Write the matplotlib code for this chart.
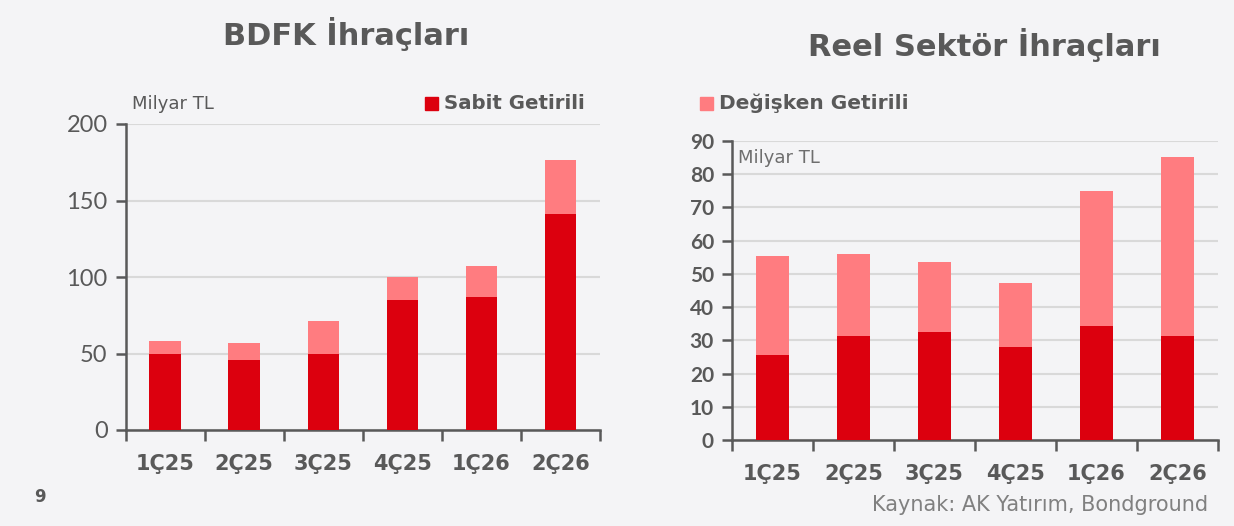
import matplotlib
matplotlib.use("Agg")
import matplotlib.pyplot as plt
import numpy as np

plt.rcParams['font.family'] = ['DejaVu Sans']

# Veriler (Milyar TL)
kategoriler = ['1Ç25', '2Ç25', '3Ç25', '4Ç25', '1Ç26', '2Ç26']
bdfk_sabit = [49.8, 45.7, 49.8, 85.2, 87.0, 141.5]
bdfk_degisken = [8.2, 11.0, 21.7, 15.0, 20.4, 35.0]
reel_sabit = [25.6, 31.4, 32.6, 28.1, 34.3, 31.3]
reel_degisken = [29.7, 24.6, 21.0, 19.3, 40.8, 53.8]

KIRMIZI = '#DC000E'
PEMBE = '#FF7C80'
GRI_YAZI = '#595959'
ARKA = '#F4F4F6'
IZGARA = '#D9D9D9'

fig = plt.figure(figsize=(12.34, 5.26), dpi=100, facecolor=ARKA)


def ciz(ax, sabit, degisken, ymax, ystep, ytick_kwargs):
    x = np.arange(len(kategoriler))
    ax.set_facecolor(ARKA)
    ax.bar(x, sabit, width=0.4, color=KIRMIZI, zorder=3)
    ax.bar(x, degisken, width=0.4, bottom=sabit, color=PEMBE, zorder=3)
    ax.set_xlim(-0.5, len(kategoriler) - 0.5)
    ax.set_ylim(0, ymax)
    ax.set_yticks(np.arange(0, ymax + 1, ystep))
    ax.grid(axis='y', color=IZGARA, linewidth=1.5, zorder=0)
    for s in ['top', 'right']:
        ax.spines[s].set_visible(False)
    for s in ['left', 'bottom']:
        ax.spines[s].set_color(GRI_YAZI)
        ax.spines[s].set_linewidth(1.8)
    # kategori etiketleri ortada, tik isaretleri sinirlarda
    ax.set_xticks(x)
    ax.set_xticklabels(kategoriler, fontsize=15, fontweight='bold', color=GRI_YAZI)
    ax.tick_params(axis='x', which='major', length=0, pad=17)
    ax.set_xticks(np.arange(-0.5, len(kategoriler)), minor=True)
    ax.tick_params(axis='x', which='minor', length=8, width=1.8, color=GRI_YAZI)
    ax.tick_params(axis='y', length=7, width=1.8, color=GRI_YAZI, pad=6)
    for lbl in ax.get_yticklabels():
        lbl.set(**ytick_kwargs)


# Sol grafik: BDFK
ax1 = fig.add_axes([125.7 / 1234, 1 - 430 / 526, (600 - 125.7) / 1234, (430 - 124) / 526])
ciz(ax1, bdfk_sabit, bdfk_degisken, 200, 50,
    dict(fontsize=17, fontweight='normal', color=GRI_YAZI, family=['Lato']))

# Sag grafik: Reel sektor
ax2 = fig.add_axes([732 / 1234, 1 - 440 / 526, (1218 - 732) / 1234, (440 - 141) / 526])
ciz(ax2, reel_sabit, reel_degisken, 90, 10,
    dict(fontsize=15, fontweight='bold', color=GRI_YAZI, family=['Lato']))

# Basliklar
fig.text(346 / 1234, 1 - 34 / 526, 'BDFK İhraçları', ha='center', va='center',
         fontsize=22, fontweight='bold', color=GRI_YAZI)
fig.text(984 / 1234, 1 - 45 / 526, 'Reel Sektör İhraçları', ha='center', va='center',
         fontsize=22, fontweight='bold', color=GRI_YAZI)

# Birim yazilari
fig.text(132 / 1234, 1 - 104 / 526, 'Milyar TL', ha='left', va='center',
         fontsize=13, color=GRI_YAZI)
fig.text(738 / 1234, 1 - 158 / 526, 'Milyar TL', ha='left', va='center',
         fontsize=13, color='#6E6E6E')

# Lejant
fig.patches.append(plt.Rectangle((425 / 1234, 1 - 110 / 526), 13 / 1234, 13 / 526,
                                 transform=fig.transFigure, color=KIRMIZI))
fig.text(444 / 1234, 1 - 103 / 526, 'Sabit Getirili', ha='left', va='center',
         fontsize=14.2, fontweight='bold', color=GRI_YAZI)
fig.patches.append(plt.Rectangle((700 / 1234, 1 - 110 / 526), 13 / 1234, 13 / 526,
                                 transform=fig.transFigure, color=PEMBE))
fig.text(719 / 1234, 1 - 103 / 526, 'Değişken Getirili', ha='left', va='center',
         fontsize=14.5, fontweight='bold', color=GRI_YAZI)

# Alt bilgiler
fig.text(40 / 1234, 1 - 497 / 526, '9', ha='center', va='center',
         fontsize=12, fontweight='bold', color=GRI_YAZI)
fig.text(1208 / 1234, 1 - 505 / 526, 'Kaynak: AK Yatırım, Bondground', ha='right', va='center',
         fontsize=15, color='#808080')

fig.savefig('out.png', dpi=100, facecolor=ARKA)
